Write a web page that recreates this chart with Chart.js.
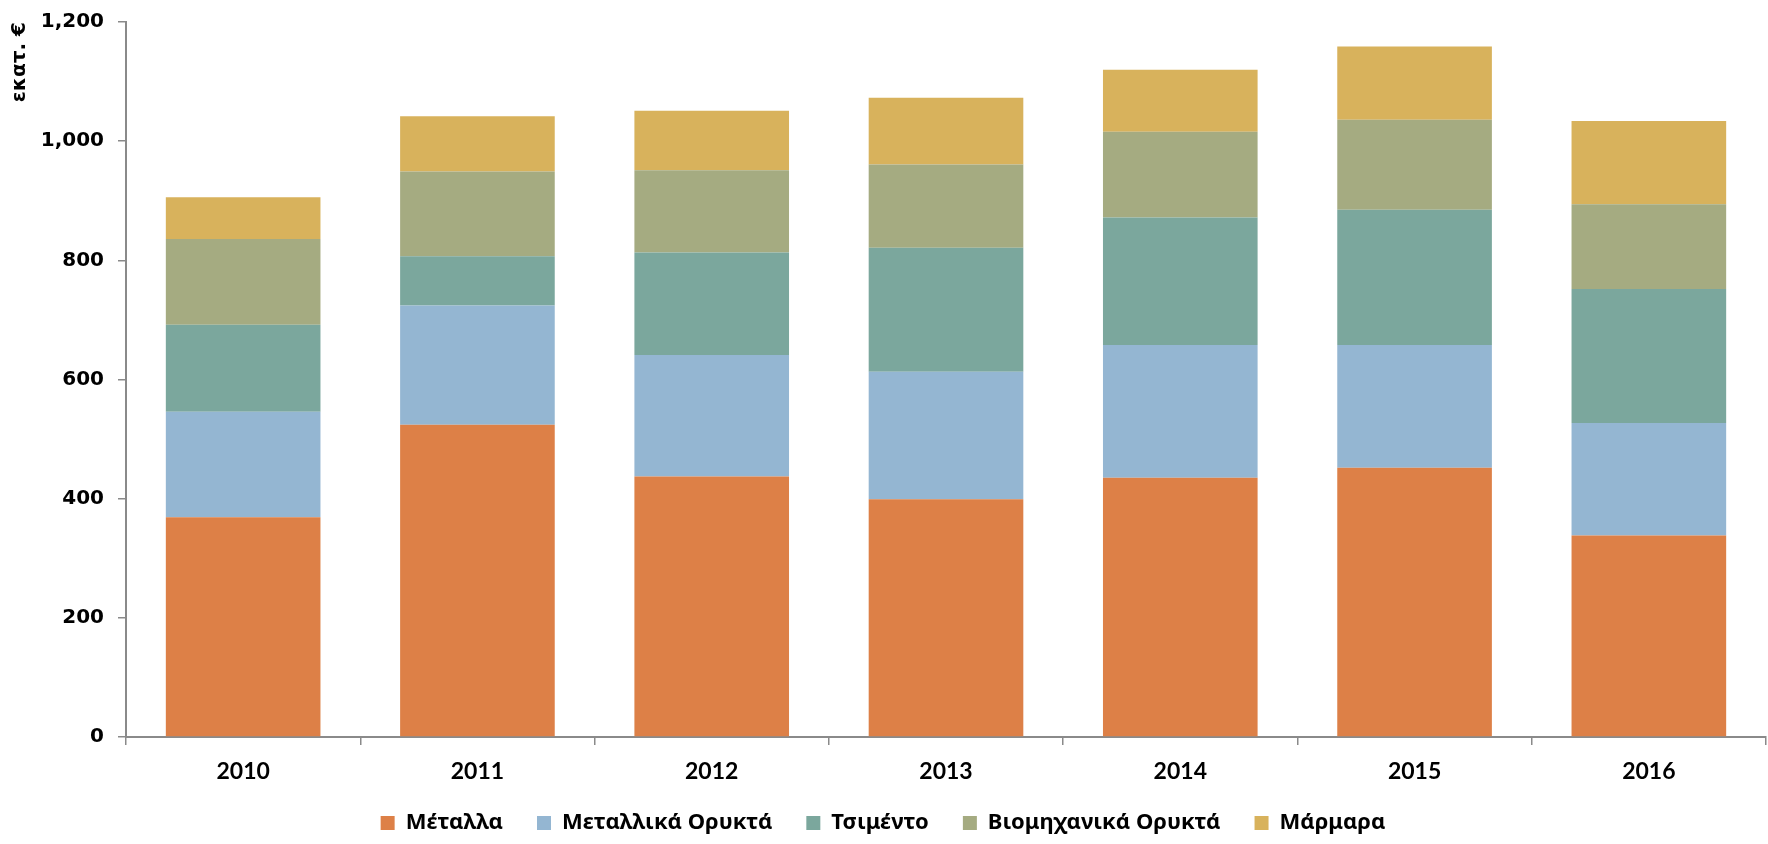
<!DOCTYPE html>
<html>
<head>
<meta charset="utf-8">
<script src="https://cdn.jsdelivr.net/npm/chart.js@4.4.0/dist/chart.umd.min.js"></script>
<style>
html,body{margin:0;padding:0;background:#fff;}
#wrap{width:1768px;height:844px;position:relative;}
</style>
</head>
<body>
<div id="wrap"><canvas id="c" width="1768" height="844"></canvas></div>
<script>
const categories = ['2010','2011','2012','2013','2014','2015','2016'];
const seriesNames = ['Μέταλλα','Μεταλλικά Ορυκτά','Τσιμέντο','Βιομηχανικά Ορυκτά','Μάρμαρα'];
const metalla      = [369, 524, 437, 399, 435, 452, 338];
const metallikaOr  = [177, 200, 204, 214, 223, 206, 189];
const tsimento     = [146,  83, 172, 208, 214, 227, 225];
const viomichanika = [144, 142, 138, 140, 144, 151, 142];
const marmara      = [ 70,  93, 100, 112, 104, 123, 140];
const yTicks = [0, 200, 400, 600, 800, 1000, 1200];
const yTitle = 'εκατ. €';
const colors = ['#DD8047','#94B6D2','#7BA79D','#A5AB81','#D8B25C'];
const values = [metalla, metallikaOr, tsimento, viomichanika, marmara];

const axisColor = '#8a8a8a';
const yTickFont = {family: '"DejaVu Sans", sans-serif', size: 20, weight: 'bold'};
const xTickFont = {family: 'Lato, "DejaVu Sans", sans-serif', size: 23, weight: 'bold'};

const layoutFix = {
  id: 'layoutFix',
  afterLayout(chart) {
    const x = chart.scales.x;
    if (x) { x.bottom = chart.height; }
  }
};

new Chart(document.getElementById('c'), {
  type: 'bar',
  data: {
    labels: categories,
    datasets: seriesNames.map((n, i) => ({
      label: n,
      data: values[i],
      backgroundColor: colors[i],
      borderWidth: 0,
      categoryPercentage: 1.0,
      barPercentage: 0.66
    }))
  },
  options: {
    responsive: false,
    animation: false,
    layout: {padding: {top: 0, right: 2, left: 0, bottom: 0}},
    plugins: {
      legend: {
        position: 'bottom',
        labels: {
          font: {family: '"Liberation Sans Narrow", "Noto Sans", sans-serif', size: 22, weight: 'bold'},
          color: '#000',
          boxWidth: 14,
          boxHeight: 14,
          padding: 34
        }
      },
      tooltip: {enabled: false}
    },
    scales: {
      x: {
        stacked: true,
        afterFit(s) { s.height = 41; },
        border: {display: true, color: axisColor, width: 2},
        grid: {display: true, drawOnChartArea: false, drawTicks: true, tickLength: 8, color: axisColor, lineWidth: 1.5, offset: true},
        ticks: {font: xTickFont, color: '#000', padding: 13}
      },
      y: {
        stacked: true,
        min: 0, max: 1200,
        afterFit(s) { s.width = 126; s.paddingTop = 22; s.paddingBottom = 0; },
        afterBuildTicks(s) { s.ticks = yTicks.map(v => ({value: v})); },
        border: {display: true, color: axisColor, width: 2},
        grid: {display: true, drawOnChartArea: false, drawTicks: true, tickLength: 8, color: axisColor, lineWidth: 1.5},
        ticks: {font: yTickFont, color: '#000', padding: 14},
        title: {
          display: true,
          text: yTitle,
          align: 'end',
          color: '#000',
          font: {family: '"DejaVu Sans", sans-serif', size: 20, weight: 'bold'},
          padding: {top: 8, bottom: 0}
        }
      }
    }
  },
  plugins: [layoutFix]
});
</script>
</body>
</html>
